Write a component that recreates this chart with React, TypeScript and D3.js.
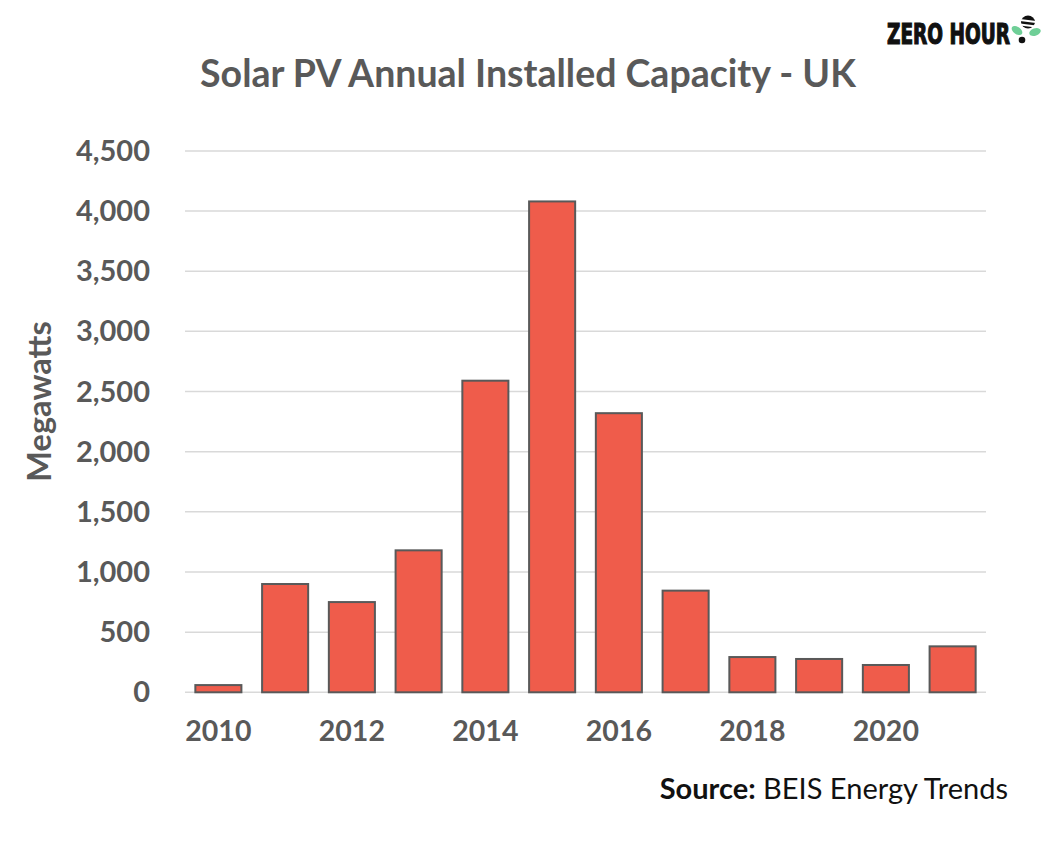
import React from "react";
import * as d3 from "d3";

const years = ["2010","2011","2012","2013","2014","2015","2016","2017","2018","2019","2020","2021"];
const capacityMW = [60, 900, 750, 1180, 2590, 4080, 2320, 845, 293, 277, 227, 382];
const yTicks = [0, 500, 1000, 1500, 2000, 2500, 3000, 3500, 4000, 4500];
const xTickLabels = ["2010","2012","2014","2016","2018","2020"];

const W = 1061, H = 861;
const plot = { left: 185, right: 986, top: 150.9, bottom: 692.3 };
const grey = "#595959";
const font = "Lato, 'Open Sans', sans-serif";

export default function App() {
  const x = d3.scaleBand<string>().domain(years).range([plot.left, plot.right]).paddingInner(0.31).paddingOuter(0.155);
  const y = d3.scaleLinear().domain([0, 4500]).range([plot.bottom, plot.top]);
  const fmt = d3.format(",");

  return (
    <svg width={W} height={H} style={{ position: "absolute", left: 0, top: 0, background: "#fff" }}>
      {/* logo */}
      <g>
        <text x={887} y={44} fontFamily="'DejaVu Sans Condensed', 'DejaVu Sans', sans-serif" fontWeight={900}
          fontSize={28} fill="#111" textLength={123} lengthAdjust="spacingAndGlyphs" stroke="#111" strokeWidth={1.2}>ZERO HOUR</text>
        <ellipse cx={1028} cy={22} rx={7} ry={6.5} fill="#111" />
        <line x1={1020} x2={1036} y1={20} y2={22} stroke="#fff" strokeWidth={1.8} />
        <line x1={1020} x2={1036} y1={24.5} y2={26.5} stroke="#fff" strokeWidth={1.8} />
        <ellipse cx={1017} cy={30.5} rx={6} ry={3.6} fill="#6fcf97" transform="rotate(35 1017 30.5)" />
        <ellipse cx={1035} cy={32} rx={6} ry={3.6} fill="#6fcf97" transform="rotate(-20 1035 32)" />
        <circle cx={1022} cy={40} r={3.3} fill="#111" />
      </g>

      <text x={528} y={87} textAnchor="middle" fontFamily={font} fontWeight={700} fontSize={37.5} fill={grey}>
        Solar PV Annual Installed Capacity - UK
      </text>

      {/* gridlines */}
      {yTicks.map(t => (
        <line key={t} x1={plot.left} x2={plot.right} y1={y(t)} y2={y(t)} stroke="#d9d9d9" strokeWidth={1.5} />
      ))}

      {/* y tick labels */}
      {yTicks.map(t => (
        <text key={t} x={150} y={y(t) + 10} textAnchor="end" fontFamily={font} fontWeight={700} fontSize={29} fill={grey}>
          {fmt(t)}
        </text>
      ))}

      <text transform={`translate(51,401.5) rotate(-90)`} textAnchor="middle"
        fontFamily={font} fontWeight={700} fontSize={32.5} fill={grey}>Megawatts</text>

      {/* bars */}
      {years.map((yr, i) => (
        <rect key={yr} x={x(yr)!} y={y(capacityMW[i])} width={x.bandwidth()} height={plot.bottom - y(capacityMW[i])}
          fill="#EF5C4B" stroke={grey} strokeWidth={2} />
      ))}

      {/* x tick labels */}
      {xTickLabels.map(yr => (
        <text key={yr} x={x(yr)! + x.bandwidth() / 2} y={741} textAnchor="middle" fontFamily={font} fontWeight={700}
          fontSize={28.5} fill={grey}>{yr}</text>
      ))}

      <text x={1008} y={799} textAnchor="end" fontFamily={font} fontSize={29} fill="#111">
        <tspan fontWeight={700}>Source:</tspan> BEIS Energy Trends
      </text>
    </svg>
  );
}
